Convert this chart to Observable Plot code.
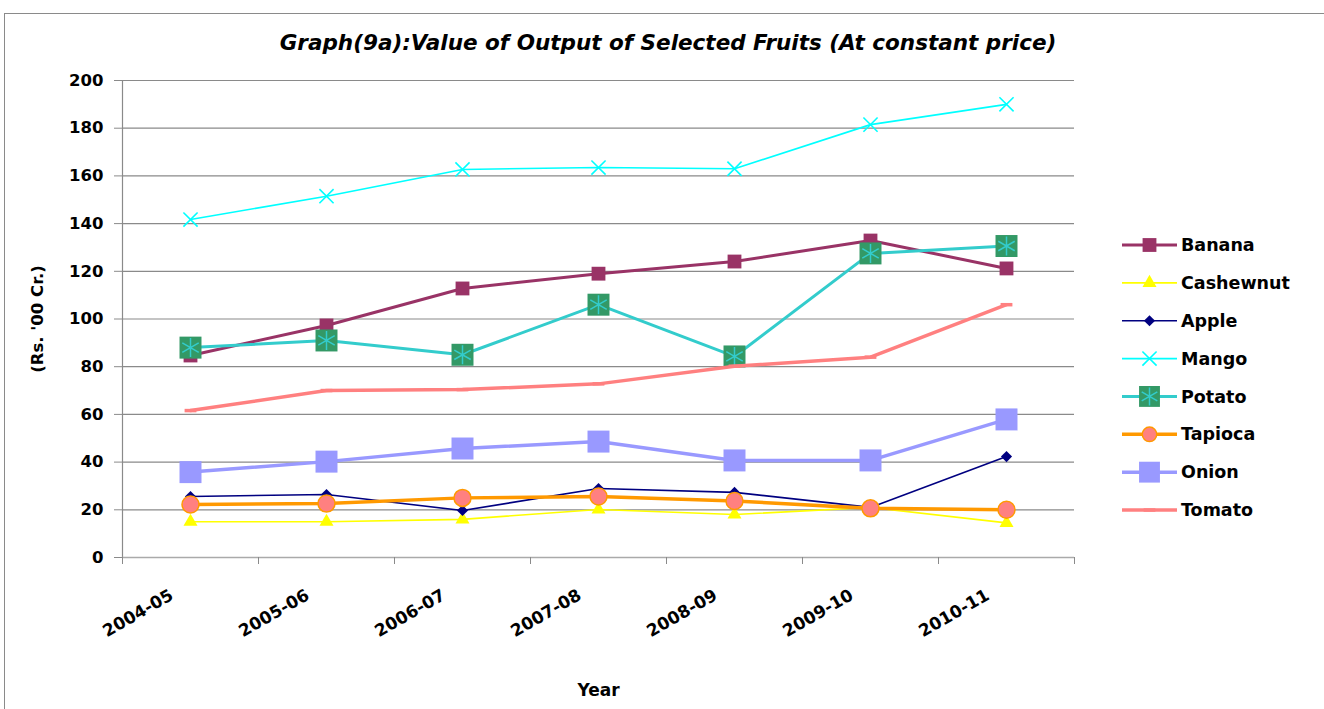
<!DOCTYPE html>
<html><head><meta charset="utf-8">
<script src="https://cdn.jsdelivr.net/npm/d3@7"></script>
<script src="https://cdn.jsdelivr.net/npm/@observablehq/plot@0.6"></script>
<style>
body{margin:0;background:#fff;font-family:"DejaVu Sans",sans-serif;width:1324px;height:709px;overflow:hidden;position:relative;}
#frame{position:absolute;left:4px;top:13px;width:1340px;height:720px;border:1.5px solid #8a8a8a;box-sizing:border-box;}
#title{position:absolute;left:0;width:1336px;top:30px;text-align:center;font-weight:bold;font-style:italic;font-size:21.5px;color:#000;}
#chart{position:absolute;left:0;top:60px;}
#legend{position:absolute;left:1110px;top:225px;}
</style>
</head><body>
<div id="frame"></div>
<div id="title">Graph(9a):Value of Output of Selected Fruits (At constant price)</div>
<div id="chart"></div>
<div id="legend"></div>
<script>
const categories = ["2004-05","2005-06","2006-07","2007-08","2008-09","2009-10","2010-11"];
const yTicks = [0,20,40,60,80,100,120,140,160,180,200];
const banana    = [84.7, 97.3, 112.8, 119.0, 124.1, 132.9, 121.2];
const cashewnut = [15.0, 15.0, 16.0, 20.1, 18.0, 21.0, 14.5];
const apple     = [25.6, 26.4, 19.7, 28.9, 27.3, 21.0, 42.3];
const mango     = [141.7, 151.5, 162.7, 163.5, 163.0, 181.5, 190.0];
const potato    = [88.0, 91.0, 85.0, 106.0, 84.3, 127.5, 130.6];
const tapioca   = [22.2, 22.6, 25.0, 25.6, 23.7, 20.6, 20.0];
const onion     = [35.8, 40.2, 45.7, 48.6, 40.7, 40.7, 57.9];
const tomato    = [61.6, 70.0, 70.4, 72.8, 80.2, 84.0, 106.0];
const seriesNames = ["Banana","Cashewnut","Apple","Mango","Potato","Tapioca","Onion","Tomato"];
const seriesValues = [banana, cashewnut, apple, mango, potato, tapioca, onion, tomato];

const dash = {draw(ctx, size){ const w = Math.sqrt(size)/1.5; ctx.moveTo(-w,0); ctx.lineTo(w,0); }};
const styles = {
  Banana:    {line:"#993366", lw:3,   symbol:"square",   r:7.8, fill:"#993366", stroke:"none"},
  Cashewnut: {line:"#FFFF00", lw:1.6, symbol:"triangle", r:5.2, fill:"#FFFF00", stroke:"none"},
  Apple:     {line:"#000080", lw:1.6, symbol:"diamond2", r:5.0, fill:"#000080", stroke:"none"},
  Mango:     {line:"#00FFFF", lw:1.6, symbol:"times",    r:6.5, fill:"none",    stroke:"#00FFFF", sw:1.6},
  Potato:    {line:"#33CCCC", lw:3,   symbol:"square",   r:12.4, fill:"#339966", stroke:"none", extra:{symbol:"asterisk", r:9, stroke:"#33CCCC", sw:1.5}},
  Tapioca:   {line:"#FF9900", lw:3.5, symbol:"circle",   r:8.5, fill:"#FF8080", stroke:"#FF9900", sw:1.5},
  Onion:     {line:"#9999FF", lw:3.5, symbol:"square",   r:12.4, fill:"#9999FF", stroke:"none"},
  Tomato:    {line:"#FF8080", lw:3.5, symbol:dash,       r:5,  fill:"none",    stroke:"#FF8080", sw:3.5}
};

const rows = seriesNames.flatMap((s, k) => seriesValues[k].map((v, i) => ({series: s, year: categories[i], pos: i + 0.5, value: v})));

const seriesMarks = seriesNames.flatMap(s => {
  const st = styles[s];
  const data = rows.filter(d => d.series === s);
  const m = [
    Plot.line(data, {x: "pos", y: "value", stroke: st.line, strokeWidth: st.lw, strokeLinejoin: "round"}),
    Plot.dot(data, {x: "pos", y: "value", symbol: st.symbol, r: st.r, fill: st.fill, stroke: st.stroke, strokeWidth: st.sw || 1})
  ];
  if (st.extra) m.push(Plot.dot(data, {x: "pos", y: "value", symbol: st.extra.symbol, r: st.extra.r, fill: "none", stroke: st.extra.stroke, strokeWidth: st.extra.sw}));
  return m;
});

const chart = Plot.plot({
  width: 1324, height: 649,
  marginLeft: 122, marginRight: 250, marginTop: 20, marginBottom: 152,
  style: {fontFamily: "DejaVu Sans, sans-serif", background: "transparent", overflow: "visible"},
  x: {domain: [0, categories.length], axis: null},
  y: {domain: [0, 200], axis: null},
  marks: [
    Plot.gridY(yTicks, {stroke: "#8a8a8a", strokeOpacity: 1, strokeWidth: 1.2}),
    Plot.axisY(yTicks, {tickSize: 8, tickPadding: 11, stroke: "#8a8a8a", fill: "#000", fontWeight: "bold", fontSize: 16.5, label: null}),
    Plot.ruleX([0], {stroke: "#8a8a8a", strokeWidth: 1.2}),
    Plot.ruleY([0], {stroke: "#aaa", strokeWidth: 1.5}),
    Plot.axisX(d3.range(0, categories.length + 1), {tickSize: 7, tickFormat: () => "", stroke: "#8a8a8a", label: null}),
    Plot.text(rows.filter(d => d.series === seriesNames[0]), {x: "pos", text: "year", frameAnchor: "bottom", textAnchor: "end", rotate: -30, dx: -16, dy: 41, fontWeight: "bold", fontSize: 17, fill: "#000"}),
    Plot.text(["(Rs. '00 Cr.)"], {frameAnchor: "left", textAnchor: "middle", dx: -85, rotate: -90, fontWeight: "bold", fontSize: 16.5, fill: "#000"}),
    Plot.text(["Year"], {x: categories.length / 2, frameAnchor: "bottom", dy: 138, fontWeight: "bold", fontSize: 17, fill: "#000"}),
    ...seriesMarks
  ]
});
document.getElementById("chart").appendChild(chart);

// Legend
const lg = d3.select("#legend").append("svg").attr("width", 214).attr("height", 300).style("overflow", "visible");
const symType = {square: d3.symbolSquare, triangle: d3.symbolTriangle, diamond2: d3.symbolDiamond2, times: d3.symbolTimes, circle: d3.symbolCircle, asterisk: d3.symbolAsterisk};
seriesNames.forEach((s, k) => {
  const st = styles[s];
  const g = lg.append("g").attr("transform", `translate(0,${20 + k * 37.86})`);
  g.append("line").attr("x1", 12).attr("x2", 67).attr("stroke", st.line).attr("stroke-width", st.lw);
  const sym = typeof st.symbol === "string" ? symType[st.symbol] : st.symbol;
  const rr = st.r * (st.r > 10 ? 0.95 : (s === "Tapioca" ? 0.85 : 1));
  g.append("path").attr("transform", "translate(39.5,0)").attr("d", d3.symbol(sym, Math.PI * rr * rr)())
    .attr("fill", st.fill).attr("stroke", st.stroke).attr("stroke-width", st.sw || 1);
  if (st.extra) {
    const er = st.extra.r * 0.95;
    g.append("path").attr("transform", "translate(39.5,0)").attr("d", d3.symbol(symType[st.extra.symbol], Math.PI * er * er)())
      .attr("fill", "none").attr("stroke", st.extra.stroke).attr("stroke-width", st.extra.sw);
  }
  g.append("text").attr("x", 71).attr("dy", "0.35em").attr("font-weight", "bold").attr("font-size", 17.5)
    .attr("font-family", "DejaVu Sans, sans-serif").text(s);
});
</script>
</body></html>
